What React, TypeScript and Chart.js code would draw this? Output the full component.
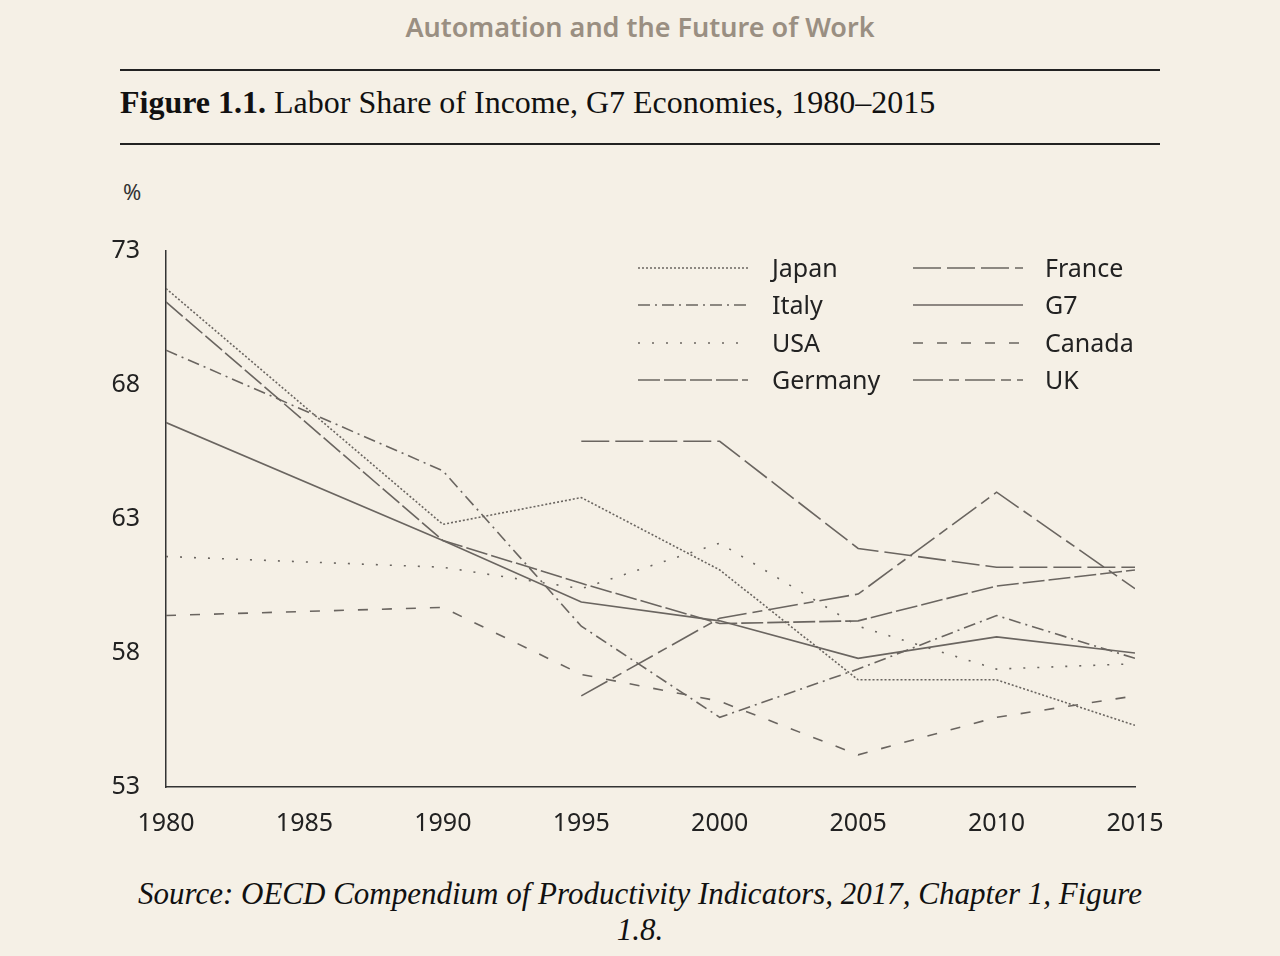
import React, { useEffect, useRef } from "react";
import { Chart, registerables } from "chart.js";
Chart.register(...registerables);

const years = [1980, 1990, 1995, 2000, 2005, 2010, 2015];
const japan = [71.6, 62.8, 63.8, 61.1, 57.0, 57.0, 55.3];
const italy = [69.3, 64.8, 59.0, 55.6, 57.4, 59.4, 57.8];
const usa = [61.6, 61.2, 60.4, 62.1, 59.0, 57.4, 57.6];
const germany = [71.1, 62.2, 60.6, 59.1, 59.2, 60.5, 61.1];
const france = [null, null, 65.9, 65.9, 61.9, 61.2, 61.2];
const g7 = [66.6, 62.2, 59.9, 59.2, 57.8, 58.6, 58.0];
const canada = [59.4, 59.7, 57.2, 56.2, 54.2, 55.6, 56.4];
const uk = [null, null, 56.4, 59.3, 60.2, 64.0, 60.4];
const yTicks = [53, 58, 63, 68, 73];

const series = [
  { label: "Japan", data: japan, dash: [2, 2] },
  { label: "France", data: france, dash: [28, 6] },
  { label: "Italy", data: italy, dash: [12, 5, 2, 5] },
  { label: "G7", data: g7, dash: [] },
  { label: "USA", data: usa, dash: [2, 12] },
  { label: "Canada", data: canada, dash: [10, 14] },
  { label: "Germany", data: germany, dash: [22, 4] },
  { label: "UK", data: uk, dash: [30, 6, 10, 6] },
];

const INK = "#6a6560";
const FONT = "'Noto Sans', sans-serif";

export default function App() {
  const ref = useRef<HTMLCanvasElement>(null);
  useEffect(() => {
    const chart = new Chart(ref.current!, {
      type: "line",
      data: {
        datasets: series.map((s) => ({
          label: s.label,
          data: years.map((y, i) => ({ x: y, y: s.data[i] as any })),
          borderColor: INK,
          borderWidth: 1.6,
          borderDash: s.dash,
          pointRadius: 0,
          tension: 0,
          spanGaps: false,
        })),
      },
      options: {
        animation: false,
        responsive: false,
        layout: { padding: { top: 20, right: 45, left: 0, bottom: 0 } },
        plugins: { legend: { display: false }, tooltip: { enabled: false } },
        scales: {
          x: {
            type: "linear",
            min: 1980,
            max: 2015,
            ticks: { stepSize: 5, color: "#222", font: { family: FONT, size: 25 }, padding: 14, callback: (v: any) => String(v) },
            grid: { display: false },
            border: { color: "#333", width: 1.5 },
            afterFit: (s: any) => { s.height = 63; },
          },
          y: {
            min: 53,
            max: 73,
            afterBuildTicks: (s: any) => { s.ticks = yTicks.map((v) => ({ value: v })); },
            ticks: { color: "#222", font: { family: FONT, size: 25 }, padding: 18 },
            grid: { display: false },
            border: { color: "#333", width: 1.5 },
            afterFit: (s: any) => { s.width = 166; },
          },
        },
      },
    });
    return () => chart.destroy();
  }, []);

  const legendRows = [0, 1, 2, 3];
  const legendY = [268, 305, 343, 380];
  return (
    <div style={{ position: "absolute", left: 0, top: 0, width: 1280, height: 956, background: "#f5f0e6", overflow: "hidden" }}>
      <div style={{ position: "absolute", top: 8, width: 1280, textAlign: "center", fontFamily: FONT, fontWeight: 600, fontSize: 27, color: "#9a8f82" }}>
        Automation and the Future of Work
      </div>
      <div style={{ position: "absolute", left: 120, top: 69, width: 1040, borderTop: "2px solid #222" }} />
      <div style={{ position: "absolute", left: 120, top: 84, fontFamily: "'Liberation Serif', serif", fontSize: 32, color: "#111" }}>
        <b>Figure 1.1.</b> Labor Share of Income, G7 Economies, 1980–2015
      </div>
      <div style={{ position: "absolute", left: 120, top: 143, width: 1040, borderTop: "2px solid #222" }} />
      <div style={{ position: "absolute", left: 123, top: 176, fontFamily: FONT, fontSize: 22, color: "#333" }}>%</div>
      <canvas ref={ref} width={1180} height={632} style={{ position: "absolute", left: 0, top: 218, width: 1180, height: 632 }} />
      {legendRows.map((r) =>
        [0, 1].map((c) => {
          const s = series[r * 2 + c];
          const lx = c === 0 ? 638 : 913;
          const tx = c === 0 ? 772 : 1045;
          return (
            <React.Fragment key={s.label}>
              <svg style={{ position: "absolute", left: lx, top: legendY[r] - 5, width: 112, height: 10 }}>
                <line x1={0} y1={5} x2={110} y2={5} stroke={INK} strokeWidth={1.6} strokeDasharray={s.dash.length ? s.dash.join(" ") : undefined} />
              </svg>
              <div style={{ position: "absolute", left: tx, top: legendY[r] - 18, fontFamily: FONT, fontSize: 25, color: "#222", lineHeight: "34px" }}>{s.label}</div>
            </React.Fragment>
          );
        })
      )}
      <div style={{ position: "absolute", left: 120, top: 876, width: 1040, textAlign: "center", fontFamily: "'Liberation Serif', serif", fontStyle: "italic", fontSize: 31, color: "#111", lineHeight: "36px" }}>
        Source: OECD Compendium of Productivity Indicators, 2017, Chapter 1, Figure 1.8.
      </div>
    </div>
  );
}
